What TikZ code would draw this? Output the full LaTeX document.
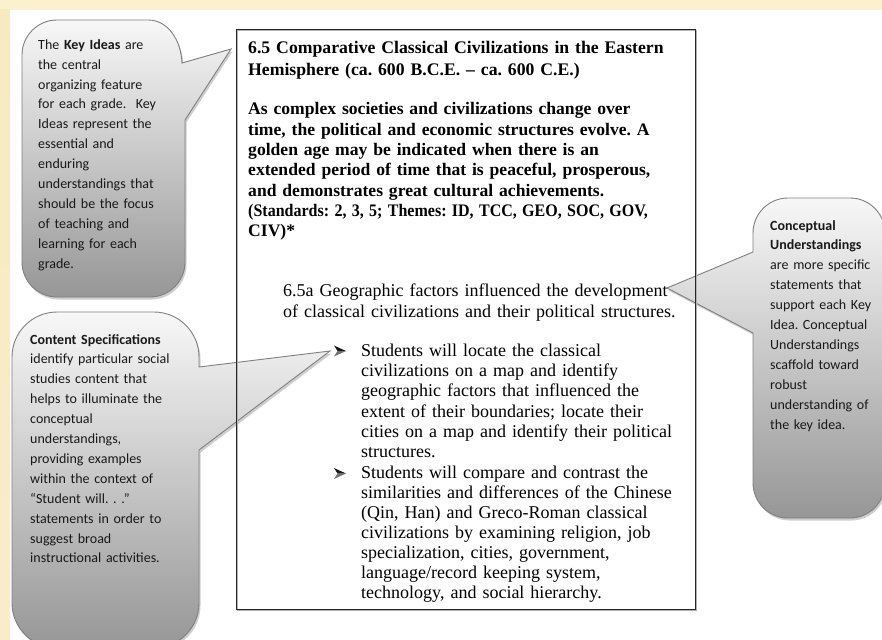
\documentclass[tikz,border=0pt]{standalone}
\usepackage{graphicx}
\usepackage{fontspec}
\setmainfont{Liberation Serif}
\newfontfamily\calib{Carlito}
\frenchspacing
\definecolor{cream}{HTML}{FBF1CF}
\definecolor{goldA}{HTML}{F8EAC0}
\definecolor{goldB}{HTML}{F3DD9E}
\definecolor{goldC}{HTML}{F8ECCB}
\tikzset{
  bubble/.style={draw=black!50, line width=0.9pt, top color=black!3, bottom color=black!41,
    preaction={fill=black!55, fill opacity=0.35, transform canvas={shift={(1.5pt,-2.5pt)}}}},
  btext/.style={font=\calib\fontsize{14}{19.9}\selectfont, text=black!90, text width=200pt,
    align=left, inner sep=0pt, anchor=base west},
  mtext/.style={font=\fontsize{18}{20.3}\selectfont, text=black, text width=470pt,
    align=left, inner sep=0pt, anchor=base west},
  mframe/.style={draw=black!85, line width=1.1pt, inner sep=0pt, anchor=north west,
    preaction={draw=black!30, line width=1.1pt, transform canvas={shift={(1pt,-1.2pt)}}}},
  bultop/.style={fill=black!90},
  bulbot/.style={fill=black!55},
}
\begin{document}
\begin{tikzpicture}[x=1pt, y=-1pt]
\useasboundingbox (0,0) rectangle (882,639);
% background
\fill[white] (0,0) rectangle (882,639);
\fill[cream] (0,0) rectangle (882,10);
\shade[top color=goldA, middle color=goldB, bottom color=goldC] (0,10) rectangle (10,639);

% pointer tips
\coordinate (kiTip) at (231,49);
\coordinate (csTip) at (330,351);
\coordinate (cuTip) at (667,288);

% Key Ideas bubble
\shadedraw[bubble] (57,20) -- (148,20) .. controls (168,20) and (181,40) .. (182,63) -- (kiTip) -- (185,120)
  -- (185,262) .. controls (185,281.3) and (169.3,297) .. (150,297) -- (57,297)
  .. controls (37.7,297) and (22,281.3) .. (22,262)
  -- (22,55) .. controls (22,35.7) and (37.7,20) .. (57,20) -- cycle;

% Content Specifications bubble
\shadedraw[bubble] (57,312) -- (154,312) .. controls (178.8,312) and (199,332.2) .. (199,357)
  -- (199,367) -- (csTip) -- (199,450)
  -- (199,603) .. controls (199,627.8) and (178.8,648) .. (154,648)
  -- (57,648) .. controls (32.2,648) and (12,627.8) .. (12,603)
  -- (12,357) .. controls (12,332.2) and (32.2,312) .. (57,312) -- cycle;

% Conceptual Understandings bubble
\shadedraw[bubble] (788,198) -- (850,198) .. controls (869.3,198) and (885,213.7) .. (885,233)
  -- (885,483) .. controls (885,502.3) and (869.3,518) .. (850,518)
  -- (788,518) .. controls (768.7,518) and (753,502.3) .. (753,483)
  -- (753,333) -- (cuTip) -- (753,252)
  -- (753,233) .. controls (753,213.7) and (768.7,198) .. (788,198) -- cycle;

% main frame
\node[mframe, minimum width=459pt, minimum height=580pt] (box) at (236,29) {};

% bubble texts
\node[btext] (kiText) at (38,49.3) {The \textbf{Key Ideas} are\\ the central\\ organizing feature\\ for each grade.~~Key\\ Ideas represent the\\ essential and\\ enduring\\ understandings that\\ should be the focus\\ of teaching and\\ learning for each\\ grade.};

\node[btext] (csText) at (30,344) {\textbf{Content Specifications}\\ identify particular social\\ studies content that\\ helps to illuminate the\\ conceptual\\ understandings,\\ providing examples\\ within the context of\\ “Student will.~.~.”\\ statements in order to\\ suggest broad\\ instructional activities.};

\node[btext] (cuText) at (770,230) {\textbf{Conceptual}\\ \textbf{Understandings}\\ are more specific\\ statements that\\ support each Key\\ Idea. Conceptual\\ Understandings\\ scaffold toward\\ robust\\ understanding of\\ the key idea.};

% main texts
\node[mtext, font=\bfseries\fontsize{17.7}{22.7}\selectfont] (title) at (248,53.3) {6.5 Comparative Classical Civilizations in the Eastern\\ Hemisphere (ca. 600 B.C.E. – ca. 600 C.E.)};

\node[mtext, font=\bfseries\fontsize{17.6}{20.3}\selectfont] (keyidea) at (248,115) {As complex societies and civilizations change over\\ time, the political and economic structures evolve. A\\ golden age may be indicated when there is an\\ extended period of time that is peaceful, prosperous,\\ and demonstrates great cultural achievements.\\ \scalebox{0.91}[1]{(Standards: 2, 3, 5; Themes: ID, TCC, GEO, SOC, GOV,}\\ CIV)*};

\node[mtext, font=\fontsize{18}{21.3}\selectfont] (cu) at (283,296) {6.5a Geographic factors influenced the development\\ of classical civilizations and their political structures.};

\node[mtext, font=\fontsize{18}{20.1}\selectfont] (bullA) at (361,356.7) {Students will locate the classical\\ civilizations on a map and identify\\ geographic factors that influenced the\\ extent of their boundaries; locate their\\ cities on a map and identify their political\\ structures.};

\node[mtext, font=\fontsize{18}{20.1}\selectfont] (bullB) at (361,478.3) {Students will compare and contrast the\\ similarities and differences of the Chinese\\ (Qin, Han) and Greco-Roman classical\\ civilizations by examining religion, job\\ specialization, cities, government,\\ language/record keeping system,\\ technology, and social hierarchy.};

% bullets
\fill[bultop] (334,345.5) -- (346,351) -- (337.5,351) -- cycle;
\fill[bulbot] (337.5,351) -- (346,351) -- (334,356.5) -- cycle;
\fill[bultop] (334,468) -- (346,473.5) -- (337.5,473.5) -- cycle;
\fill[bulbot] (337.5,473.5) -- (346,473.5) -- (334,479) -- cycle;
\end{tikzpicture}
\end{document}
